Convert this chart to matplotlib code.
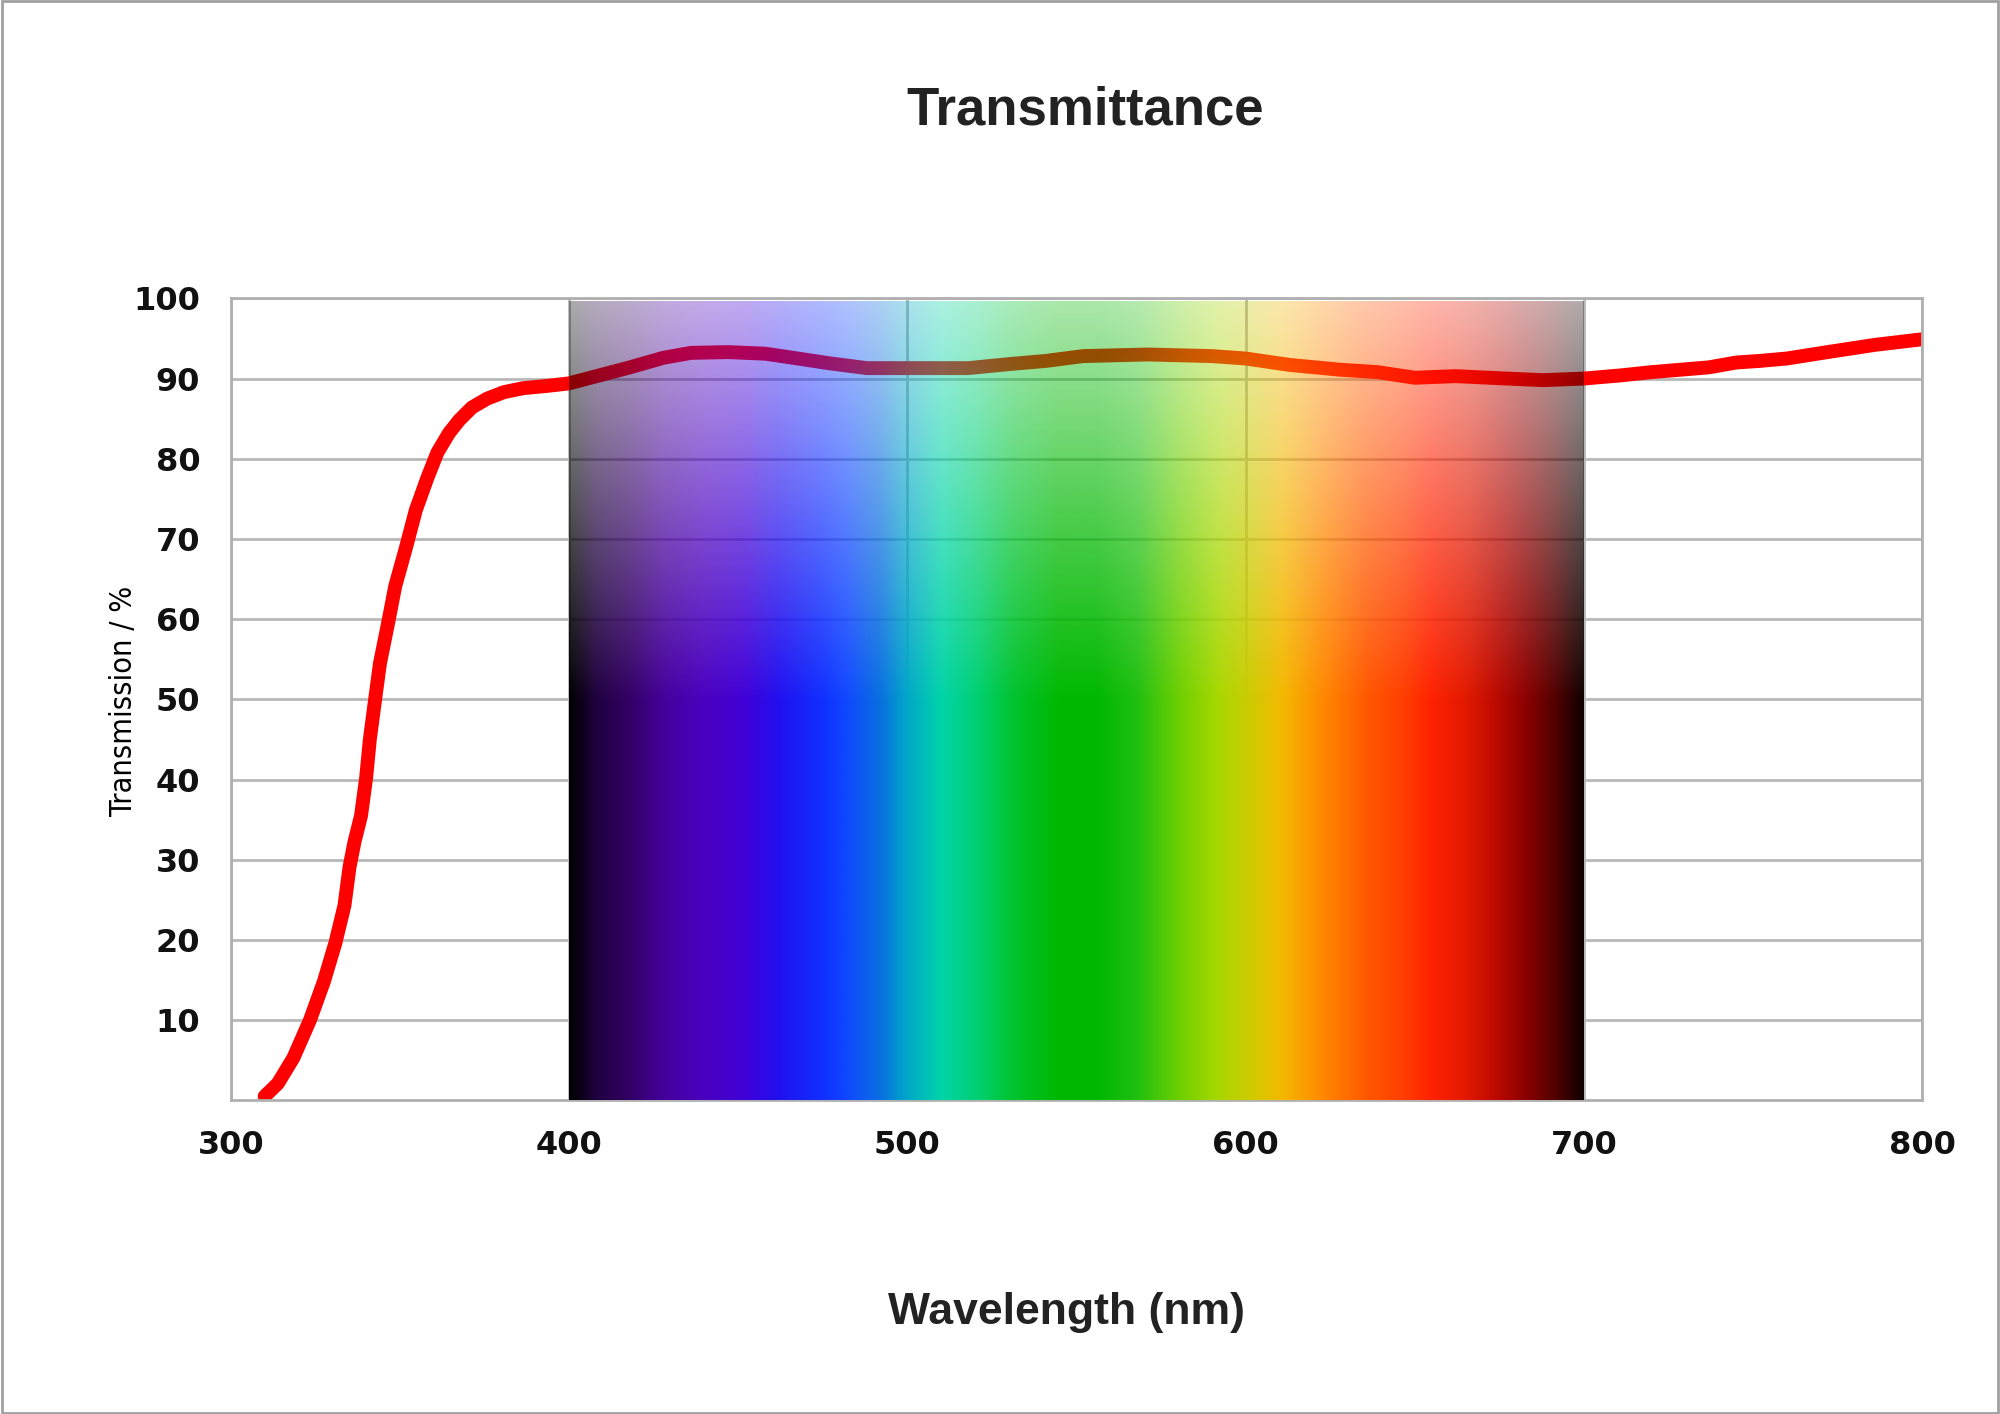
import matplotlib
matplotlib.use("Agg")
import matplotlib.pyplot as plt
from matplotlib import font_manager
from matplotlib.colors import to_rgb
from matplotlib.patches import Rectangle
import numpy as np

# transmission curve
wavelength = [310, 313.9, 318.5, 323.4, 327.5, 330.9, 333.6, 335.1, 336.6, 338.5,
              340, 341.1, 342.6, 344.1, 346.4, 348.6, 351.7, 354.7, 358.1, 361.1,
              364.5, 367.5, 371.3, 375.8, 380.7, 386.4, 393.9, 400,
              409, 418, 428, 436, 447, 458, 466, 477, 488, 500,
              518, 530, 541, 552, 571, 590, 600, 613, 628, 639,
              650, 662, 677, 688, 700, 711, 720, 737, 745, 752,
              760, 772, 786, 800]
transmission = [0.5, 2.1, 5.3, 10.0, 14.8, 19.6, 24.3, 29.1, 32.3, 35.5,
                40.2, 45.0, 49.8, 54.5, 59.3, 64.1, 68.8, 73.6, 77.6, 80.8,
                83.2, 84.8, 86.4, 87.5, 88.3, 88.8, 89.1, 89.4,
                90.4, 91.4, 92.6, 93.2, 93.3, 93.1, 92.6, 91.9, 91.3, 91.3,
                91.3, 91.8, 92.2, 92.8, 93.0, 92.8, 92.5, 91.7, 91.1, 90.8,
                90.1, 90.3, 90.0, 89.8, 90.0, 90.4, 90.8, 91.4, 92.0, 92.2,
                92.5, 93.3, 94.2, 94.9]

x_ticks = [300, 400, 500, 600, 700, 800]
y_ticks = [10, 20, 30, 40, 50, 60, 70, 80, 90, 100]

# visible spectrum backdrop colour stops
spec_nm = [400, 408, 418, 428, 440, 452, 462, 475, 482, 492, 500, 510, 521, 531,
           545, 556, 568, 581, 592, 601, 611, 623, 636, 646, 655, 666, 675, 685,
           692, 700]
spec_hex = ['#000000', '#200040', '#330066', '#45009c', '#4a00c0', '#4000d8',
            '#2010f0', '#1030ff', '#1048ff', '#0870e0', '#00a8c8', '#00d4a8',
            '#00d070', '#00c430', '#00b800', '#00b800', '#20c010', '#70d000',
            '#a8d800', '#cccc00', '#f4b800', '#ff8800', '#ff5800', '#ff4000',
            '#ff2200', '#e01800', '#b80800', '#800000', '#500000', '#100000']

names = {f.name for f in font_manager.fontManager.ttflist}
if 'Liberation Sans Narrow' in names:
    ylab_font = dict(family='Liberation Sans Narrow', size=26)
else:
    ylab_font = dict(family='DejaVu Sans', size=22, stretch='condensed')
title_family = 'Liberation Sans' if 'Liberation Sans' in names else 'DejaVu Sans'

fig = plt.figure(figsize=(20, 14.14), dpi=100)
fig.patch.set_facecolor('white')
ax = fig.add_axes([0.1154, 0.2218, 0.8457, 0.5672])

# spectrum image, opaque at the bottom and washed out towards the top
cols = np.linspace(400, 700, 600)
rows = np.linspace(0, 99.5, 400)
stops = np.array([to_rgb(c) for c in spec_hex])
rgb = np.stack([np.interp(cols, spec_nm, stops[:, k]) for k in range(3)], axis=-1)
fade = 1 - 0.67 * np.clip((rows - 50) / 50, 0, 1)
img = np.zeros((len(rows), len(cols), 4))
img[:, :, :3] = rgb[None, :, :]
img[:, :, 3] = fade[:, None]
ax.imshow(img, origin='lower', extent=[400, 700, 0, 99.5], aspect='auto',
          interpolation='bilinear', zorder=3)

ax.plot(wavelength, transmission, color='#ff0000', lw=10,
        solid_capstyle='round', solid_joinstyle='round', zorder=2)

ax.set_xlim(300, 800)
ax.set_ylim(0, 100)
ax.set_xticks(x_ticks)
ax.set_yticks(y_ticks)
ax.set_axisbelow(True)
ax.grid(True, color='#b8b8b8', lw=2)
for s in ax.spines.values():
    s.set_color('#b0b0b0')
    s.set_linewidth(2)
ax.tick_params(length=0, labelsize=23, labelcolor='#111111')
ax.tick_params(axis='y', pad=22)
ax.tick_params(axis='x', pad=21)
for lab in ax.get_xticklabels() + ax.get_yticklabels():
    lab.set_fontweight('bold')

fig.text(0.5427, 0.9215, 'Transmittance', ha='center', va='center',
         family=title_family, weight='bold', size=38, color='#222222')
fig.text(0.533, 0.072, 'Wavelength (nm)', ha='center', va='center',
         family=title_family, weight='bold', size=32, color='#222222')
fig.text(0.0619, 0.504, 'Transmission / %', ha='center', va='center',
         rotation=90, color='#000000', **ylab_font)

fig.patches.append(Rectangle((0.001, 0.001), 0.998, 0.998, transform=fig.transFigure,
                             fill=False, edgecolor='#a0a0a0', lw=2))

fig.savefig('out.png', dpi=100)
